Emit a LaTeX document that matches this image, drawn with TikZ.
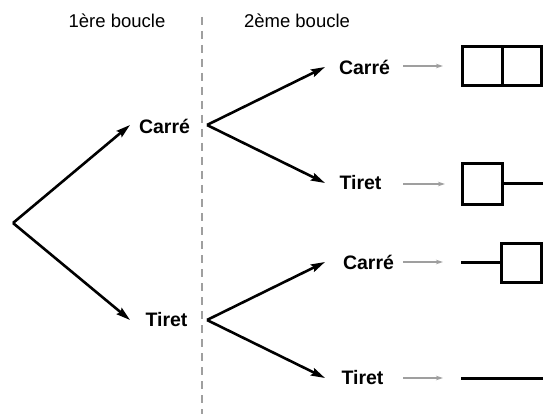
\documentclass[tikz,border=0pt]{standalone}
\usepackage{fontspec}
\setmainfont{Liberation Sans}
\usetikzlibrary{arrows.meta}
\begin{document}
\begin{tikzpicture}[x=1pt,y=-1pt,
  head/.style={font=\fontsize{18.5}{20}\selectfont, inner sep=0pt},
  lbl/.style={font=\bfseries\fontsize{19.5}{21}\selectfont, inner sep=0pt},
  branch/.style={line width=2.6pt, -{Stealth[length=14pt,width=8pt,inset=2pt]}},
  toarr/.style={draw=gray!75, line width=1.2pt, -{Stealth[length=7pt,width=4.5pt]}},
  shapeline/.style={line width=3pt, line cap=rect},
  divider/.style={draw=gray!75, line width=1.1pt, dash pattern=on 8pt off 6pt}]
\useasboundingbox (0,0) rectangle (543,414);
% headers
\node[head] (h1) at (117,21) {1ère boucle};
\node[head] (h2) at (297,21) {2ème boucle};
% divider
\coordinate (dtop) at (202,17);
\coordinate (dbot) at (202,414);
\draw[divider] (dtop) -- (dbot);
% root and level 1
\coordinate (root) at (13,223);
\coordinate (t1) at (130,125);
\coordinate (t2) at (130,320);
\node[lbl] (c1) at (164.5,126) {Carré};
\node[lbl] (r1) at (166.5,320) {Tiret};
\draw[branch] (root) -- (t1);
\draw[branch] (root) -- (t2);
% level 2 starts
\coordinate (s1) at (207,125);
\coordinate (s2) at (207,320);
\coordinate (u1) at (325,67);
\coordinate (u2) at (325,183);
\coordinate (u3) at (325,262);
\coordinate (u4) at (325,378);
\draw[branch] (s1) -- (u1);
\draw[branch] (s1) -- (u2);
\draw[branch] (s2) -- (u3);
\draw[branch] (s2) -- (u4);
\node[lbl] (c2) at (364.5,67) {Carré};
\node[lbl] (r2) at (360.5,183) {Tiret};
\node[lbl] (c3) at (368.5,262) {Carré};
\node[lbl] (r3) at (362.5,378) {Tiret};
% gray arrows
\coordinate (g1a) at (403,66); \coordinate (g1b) at (443,66);
\coordinate (g2a) at (403,184); \coordinate (g2b) at (445,184);
\coordinate (g3a) at (403,262); \coordinate (g3b) at (443,262);
\coordinate (g4a) at (403,378); \coordinate (g4b) at (443,378);
\draw[toarr] (g1a) -- (g1b);
\draw[toarr] (g2a) -- (g2b);
\draw[toarr] (g3a) -- (g3b);
\draw[toarr] (g4a) -- (g4b);
% result shapes
\draw[shapeline] (462,47) rectangle (541,86);
\draw[shapeline] (502,47) -- (502,86);
\draw[shapeline] (462,164) rectangle (502,204);
\draw[shapeline] (502,184) -- (541,184);
\draw[shapeline] (462,262) -- (501,262);
\draw[shapeline] (501,243) rectangle (541,282);
\draw[shapeline] (462,378) -- (541,378);
\end{tikzpicture}
\end{document}
